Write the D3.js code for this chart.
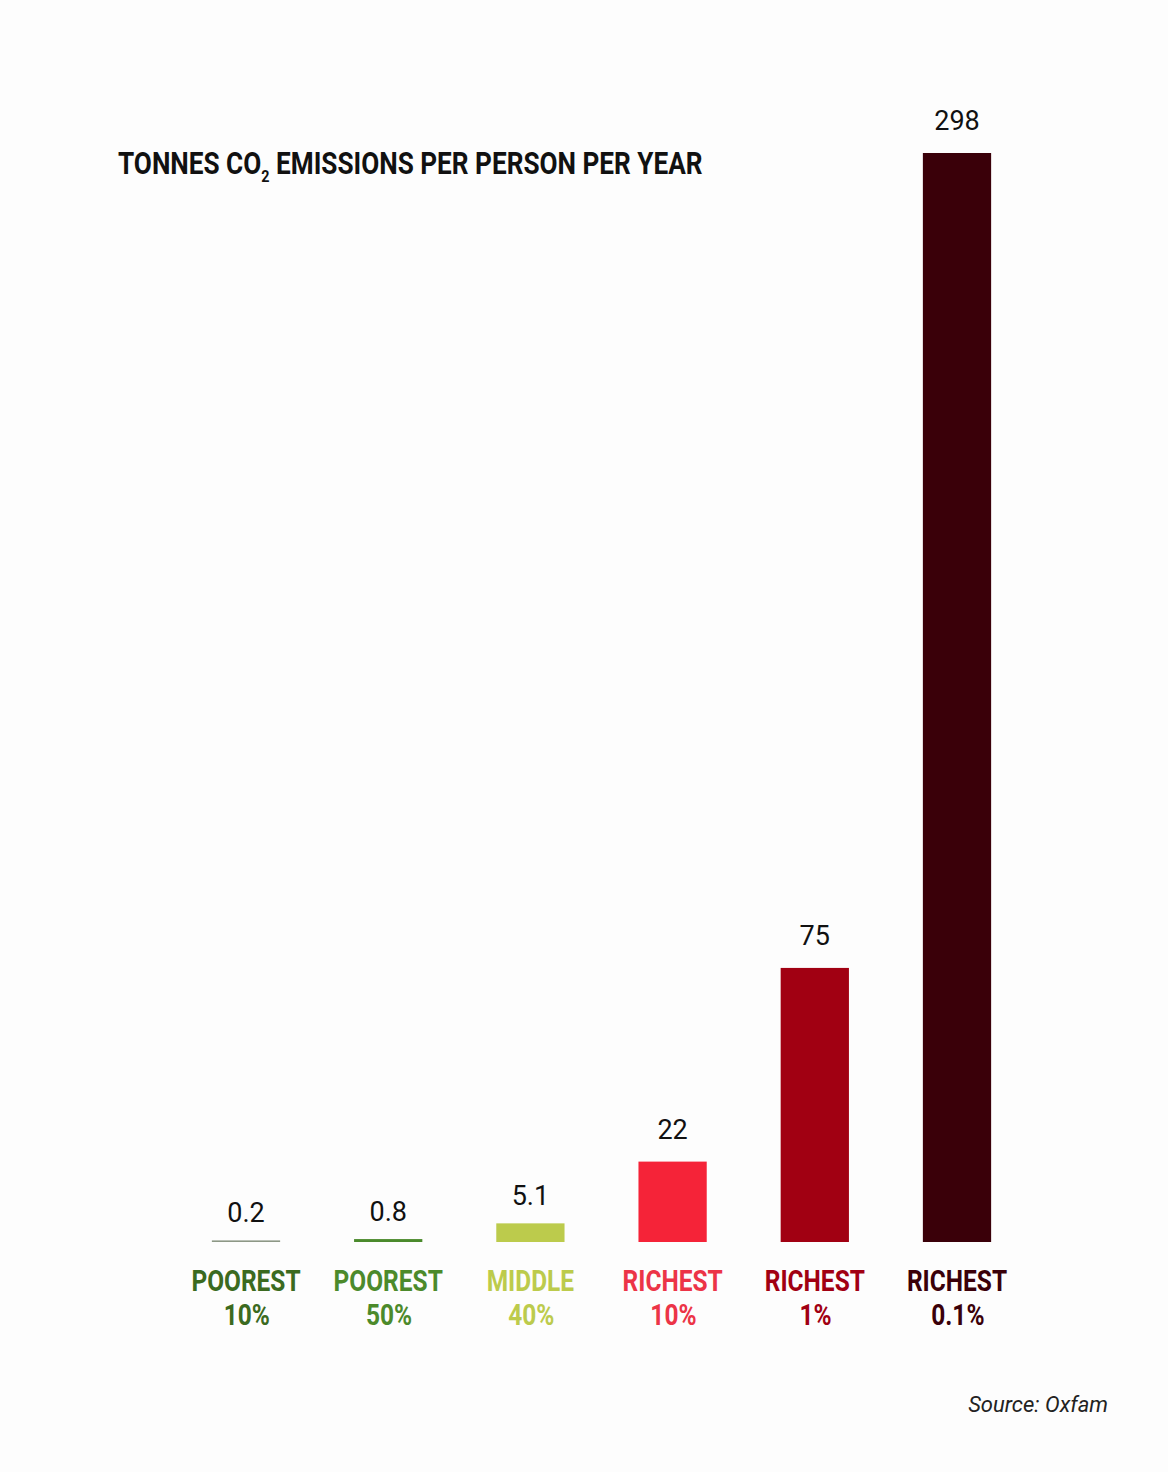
<!DOCTYPE html>
<html>
<head>
<meta charset="utf-8">
<script src="https://cdn.jsdelivr.net/npm/d3@7"></script>
<style>
  body { margin: 0; background: #fdfdfd; }
  svg { display: block; }
</style>
</head>
<body>
<div id="chart"></div>
<script>
// data
const groups = ["POOREST 10%", "POOREST 50%", "MIDDLE 40%", "RICHEST 10%", "RICHEST 1%", "RICHEST 0.1%"];
const labelTop = ["POOREST", "POOREST", "MIDDLE", "RICHEST", "RICHEST", "RICHEST"];
const labelBottom = ["10%", "50%", "40%", "10%", "1%", "0.1%"];
const emissions = [0.2, 0.8, 5.1, 22, 75, 298];
const valueText = ["0.2", "0.8", "5.1", "22", "75", "298"];
const barColors = ["#8d9886", "#4a8a2c", "#bccb4c", "#f52338", "#a10012", "#3a0009"];
const labelColors = ["#3b6a20", "#4c8a2b", "#bccb4c", "#ec3447", "#a10012", "#3a0009"];

const W = 1168, H = 1472;
const condFont = "Roboto, 'Noto Sans', sans-serif";

const svg = d3.select("#chart")
    .append("svg")
    .attr("width", W)
    .attr("height", H);

svg.append("rect").attr("width", W).attr("height", H).attr("fill", "#fdfdfd");

// scales
const x = d3.scaleBand()
    .domain(groups)
    .range([174.9, 1028.1])
    .paddingInner(0.52)
    .paddingOuter(0.26);

const y = d3.scaleLinear()
    .domain([0, 298])
    .range([1242, 153]);

const data = groups.map((g, i) => ({
    group: g, value: emissions[i], text: valueText[i],
    top: labelTop[i], bottom: labelBottom[i],
    bar: barColors[i], label: labelColors[i]
}));

// title (squeezed horizontally to look like a condensed face)
const titleG = svg.append("g");
const title = titleG.append("text")
    .attr("x", 0)
    .attr("y", 174)
    .attr("font-family", condFont)
    .attr("font-size", 31)
    .attr("font-weight", "bold")
    .attr("fill", "#111");
title.append("tspan").text("TONNES CO");
title.append("tspan").attr("font-size", 17).attr("dy", 8).text("2");
title.append("tspan").attr("dy", -8).text(" EMISSIONS PER PERSON PER YEAR");
const sx = 585 / title.node().getBBox().width;
titleG.attr("transform", `translate(118,0) scale(${sx},1)`);

// bars
svg.selectAll(".bar")
    .data(data)
    .enter()
    .append("rect")
    .attr("class", "bar")
    .attr("x", d => x(d.group))
    .attr("width", x.bandwidth())
    .attr("y", d => Math.min(y(d.value), y(0) - 1.6))
    .attr("height", d => Math.max(y(0) - y(d.value), 1.6))
    .attr("fill", d => d.bar);

// value labels
svg.selectAll(".val")
    .data(data)
    .enter()
    .append("text")
    .attr("class", "val")
    .attr("x", d => x(d.group) + x.bandwidth() / 2)
    .attr("y", d => Math.min(y(d.value), y(0) - 1.6) - (d.value < 10 ? 18 : 23))
    .attr("text-anchor", "middle")
    .attr("font-family", "Roboto, 'Noto Sans', sans-serif")
    .attr("font-size", 27)
    .attr("fill", "#111")
    .text(d => d.text);

// category labels
const cats = svg.selectAll(".cat")
    .data(data)
    .enter()
    .append("g")
    .attr("class", "cat")
    .attr("transform", d => `translate(${x(d.group) + x.bandwidth() / 2},0) scale(${sx},1)`)
    .append("text")
    .attr("text-anchor", "middle")
    .attr("font-family", condFont)
    .attr("font-size", 29)
    .attr("font-weight", "bold")
    .attr("fill", d => d.label);

cats.append("tspan")
    .attr("x", 0)
    .attr("y", 1291)
    .text(d => d.top);
cats.append("tspan")
    .attr("x", 1)
    .attr("y", 1325)
    .text(d => d.bottom);

// source
svg.append("text")
    .attr("x", 1108)
    .attr("y", 1412)
    .attr("text-anchor", "end")
    .attr("font-family", "Roboto, 'Noto Sans', sans-serif")
    .attr("font-style", "italic")
    .attr("font-size", 22)
    .attr("fill", "#222")
    .text("Source: Oxfam");
</script>
</body>
</html>
